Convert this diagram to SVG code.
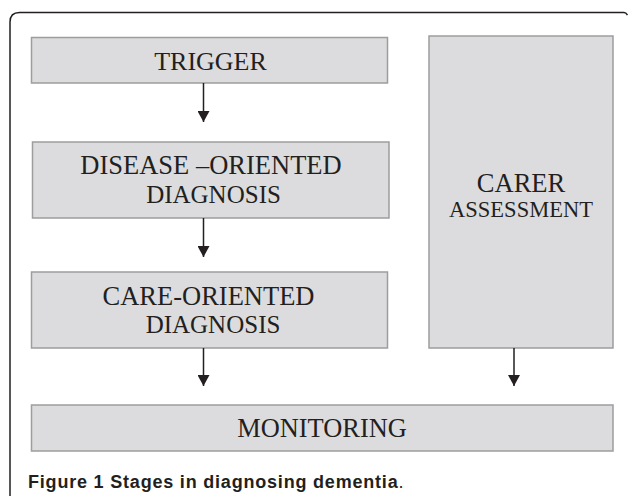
<svg xmlns="http://www.w3.org/2000/svg" width="628" height="496" viewBox="0 0 628 496">
  <style>
    .box { fill: #dcdcde; stroke: #9d9d9d; stroke-width: 1.5; }
    .lbl { font-family: "Liberation Serif", "Times New Roman", serif; fill: #231f20; text-anchor: middle; }
    .conn { stroke: #231f20; stroke-width: 1.5; fill: none; }
    .cap { font-family: "Liberation Sans", Arial, sans-serif; fill: #231f20; }
  </style>
  <defs>
    <marker id="arrow" markerUnits="userSpaceOnUse" markerWidth="12" markerHeight="12" refX="11" refY="6" orient="auto" viewBox="0 0 12 12">
      <path d="M0,0 L11,6 L0,12 z" fill="#231f20"/>
    </marker>
  </defs>
  <rect width="628" height="496" fill="#ffffff"/>
  <path d="M10,496 L10,22 Q10,12.5 19.5,12.5 L624,12.5 Q626,12.5 627.5,15" fill="none" stroke="#231f20" stroke-width="1.5"/>

  <g id="trigger">
    <rect class="box" x="31.5" y="37.5" width="356" height="45.5"/>
    <text class="lbl" x="210.5" y="70" font-size="26">TRIGGER</text>
  </g>
  <g id="disease">
    <rect class="box" x="32.5" y="142" width="356.5" height="76"/>
    <text class="lbl" x="211" y="174" font-size="26.5">DISEASE –ORIENTED</text>
    <text class="lbl" x="213.5" y="203" font-size="25">DIAGNOSIS</text>
  </g>
  <g id="care">
    <rect class="box" x="31.5" y="272" width="356" height="76"/>
    <text class="lbl" x="208.5" y="305" font-size="26.5">CARE-ORIENTED</text>
    <text class="lbl" x="213" y="333" font-size="25">DIAGNOSIS</text>
  </g>
  <g id="carer">
    <rect class="box" x="429" y="36" width="184" height="312"/>
    <text class="lbl" x="521" y="192" font-size="26.5">CARER</text>
    <text class="lbl" x="521" y="217" font-size="22.5">ASSESSMENT</text>
  </g>
  <g id="monitoring">
    <rect class="box" x="31.5" y="405" width="581.5" height="46"/>
    <text class="lbl" x="322" y="437" font-size="26.4">MONITORING</text>
  </g>

  <g id="connectors">
    <line class="conn" x1="203.5" y1="83" x2="203.5" y2="122" marker-end="url(#arrow)"/>
    <line class="conn" x1="203.5" y1="218" x2="203.5" y2="257" marker-end="url(#arrow)"/>
    <line class="conn" x1="203.5" y1="348" x2="203.5" y2="386" marker-end="url(#arrow)"/>
    <line class="conn" x1="514" y1="348" x2="514" y2="386" marker-end="url(#arrow)"/>
  </g>

  <text class="cap" x="28" y="488" font-size="18" letter-spacing="0.8"><tspan font-weight="bold">Figure 1 Stages in diagnosing dementia</tspan>.</text>
</svg>
